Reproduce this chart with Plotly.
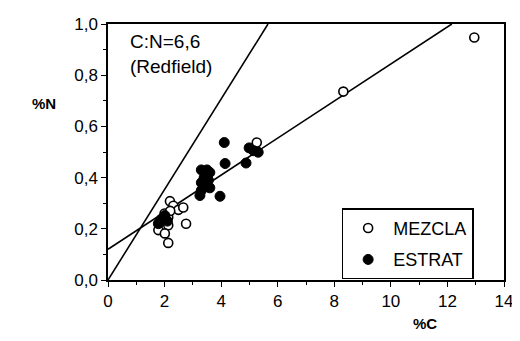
import plotly.graph_objects as go

# MEZCLA (open circles)
mez_c = [12.95, 8.32, 5.26, 2.19, 2.31, 2.49, 2.66, 2.76, 2.13, 2.13, 1.78, 2.01, 2.13, 2.0, 1.85, 2.2]
mez_n = [0.947, 0.736, 0.537, 0.308, 0.29, 0.274, 0.283, 0.22, 0.245, 0.214, 0.195, 0.182, 0.145, 0.26, 0.23, 0.27]

# ESTRAT (filled circles)
est_c = [4.11, 4.99, 5.31, 5.15, 4.14, 4.88, 3.3, 3.5, 3.6, 3.4, 3.55, 3.3, 3.5, 3.3, 3.25, 3.6, 3.96, 1.9, 1.78, 2.01, 2.1]
est_n = [0.537, 0.516, 0.499, 0.505, 0.455, 0.457, 0.43, 0.43, 0.42, 0.40, 0.39, 0.38, 0.37, 0.35, 0.33, 0.36, 0.327, 0.239, 0.22, 0.252, 0.23]

# Redfield C:N = 6.6 (molar) -> mass ratio
redfield_molar = 6.6
redfield_mass = redfield_molar * 12.0 / 14.0
# regression line
reg_intercept = 0.12
reg_slope = 0.0724

x_ticks = [0, 2, 4, 6, 8, 10, 12, 14]
x_ticktext = ["0", "2", "4", "6", "8", "10", "12", "14"]
y_ticks = [0.0, 0.2, 0.4, 0.6, 0.8, 1.0]
y_ticktext = ["0,0", "0,2", "0,4", "0,6", "0,8", "1,0"]

font = "Liberation Sans, Arial, sans-serif"

fig = go.Figure()

# Redfield line
rx = [0, 1.0 * redfield_mass]
ry = [0, 1.0]
fig.add_trace(go.Scatter(x=rx, y=ry, mode="lines", line=dict(color="black", width=1.6),
                         showlegend=False, hoverinfo="skip"))
# regression line
gx = [0, (1.0 - reg_intercept) / reg_slope]
gy = [reg_intercept, 1.0]
fig.add_trace(go.Scatter(x=gx, y=gy, mode="lines", line=dict(color="black", width=1.6),
                         showlegend=False, hoverinfo="skip"))

fig.add_trace(go.Scatter(x=mez_c, y=mez_n, mode="markers", name="MEZCLA", legendgroup="a",
                         marker=dict(symbol="circle", size=9, color="white",
                                     line=dict(color="black", width=1.6))))
fig.add_trace(go.Scatter(x=est_c, y=est_n, mode="markers", name="ESTRAT", legendgroup="b",
                         marker=dict(symbol="circle", size=10, color="black",
                                     line=dict(color="black", width=1))))

fig.add_annotation(x=0.05, y=0.98, xref="paper", yref="paper", xanchor="left", yanchor="top",
                   text="C:N=6,6<br>(Redfield)", showarrow=False, align="left",
                   font=dict(family=font, size=19, color="black"))
fig.add_annotation(x=-0.162, y=0.69, xref="paper", yref="paper", xanchor="center", yanchor="middle",
                   text="<b>%N</b>", showarrow=False, font=dict(family=font, size=15, color="black"))
fig.add_annotation(x=0.80, y=-0.17, xref="paper", yref="paper", xanchor="center", yanchor="middle",
                   text="<b>%C</b>", showarrow=False, font=dict(family=font, size=15, color="black"))

axis_common = dict(showline=True, linecolor="black", linewidth=1.5, mirror=True,
                   ticks="outside", ticklen=5, tickwidth=1.2, tickcolor="black",
                   showgrid=False, zeroline=False, ticklabeloverflow="allow",
                   tickfont=dict(family=font, size=17, color="black"))

fig.update_xaxes(range=[0, 14], tickvals=x_ticks, ticktext=x_ticktext,
                 minor=dict(dtick=1, ticks="outside", ticklen=3, tickcolor="black"),
                 **axis_common)
fig.update_yaxes(range=[0, 1.0], tickvals=y_ticks, ticktext=y_ticktext,
                 minor=dict(dtick=0.1, ticks="outside", ticklen=3, tickcolor="black"),
                 **axis_common)

fig.update_layout(
    width=512, height=333,
    margin=dict(l=100, r=16, t=7, b=61),
    paper_bgcolor="white", plot_bgcolor="white",
    font=dict(family=font, size=17, color="black"),
    legend=dict(x=0.59, y=0.28, xanchor="left", yanchor="top",
                bgcolor="white", bordercolor="black", borderwidth=1.5,
                font=dict(family=font, size=18, color="black"),
                itemwidth=40, traceorder="grouped", tracegroupgap=5),
)

fig.write_html("out.html")
